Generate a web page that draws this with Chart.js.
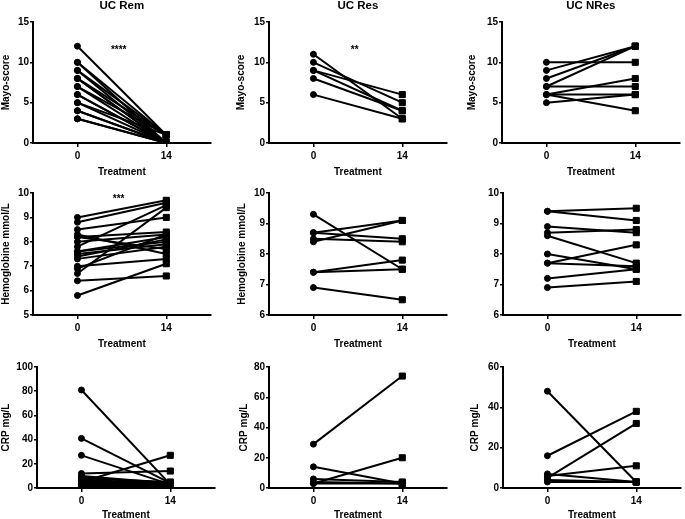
<!DOCTYPE html>
<html>
<head>
<meta charset="utf-8">
<script src="https://cdn.jsdelivr.net/npm/chart.js@4.4.1/dist/chart.umd.min.js"></script>
<style>
  body { margin: 0; background: #fff; overflow: hidden; }
  #wrap { position: relative; width: 685px; height: 519px; overflow: hidden; }
  canvas { position: absolute; }
</style>
</head>
<body>
<div id="wrap"></div>
<script>
// time points (days)
let days = [0, 14];

// Mayo-score
let mayoRem0 = [12, 10, 10, 9, 9, 8, 8, 8, 7, 7, 6, 6, 5, 5, 4, 4, 3, 3];
let mayoRem14 = [1, 1, 0, 0, 1, 0, 0, 1, 0, 1, 0, 0, 0, 1, 0, 0, 0, 0];
let mayoRes0 = [11, 10, 9, 9, 8, 6];
let mayoRes14 = [3, 5, 6, 4, 4, 3];
let mayoNRes0 = [10, 9, 8, 7, 7, 6, 6, 6, 5];
let mayoNRes14 = [10, 12, 12, 12, 7, 8, 6, 4, 6];

// Hemoglobine mmol/L
let hbRem0 = [9.0, 8.8, 8.5, 8.3, 8.2, 8.2, 8.0, 7.8, 7.6, 7.6, 7.5, 7.4, 7.3, 7.0, 6.9, 6.7, 6.4, 5.8];
let hbRem14 = [9.7, 9.6, 9.0, 7.5, 8.4, 7.7, 8.3, 9.5, 8.0, 8.2, 7.9, 8.1, 7.8, 7.3, 8.3, 9.4, 6.6, 7.1];
let hbRes0 = [9.3, 8.7, 8.7, 8.5, 8.4, 7.4, 7.4, 6.9];
let hbRes14 = [7.5, 8.5, 9.1, 8.4, 9.1, 7.8, 7.5, 6.5];
let hbNRes0 = [9.4, 9.4, 8.9, 8.7, 8.6, 8.0, 7.7, 7.7, 7.2, 6.9];
let hbNRes14 = [9.5, 9.1, 8.7, 8.8, 7.7, 7.5, 8.3, 7.6, 7.5, 7.1];

// CRP mg/L
let crpRem0 = [81, 41, 27, 12, 10, 9, 8, 7, 6, 5, 5, 4, 4, 3, 3, 2, 2, 1];
let crpRem14 = [3, 4, 3, 14, 4, 3, 5, 3, 2, 27, 3, 2, 4, 3, 2, 2, 1, 1];
let crpRes0 = [29, 14, 6, 4, 3, 3];
let crpRes14 = [74, 3, 4, 3, 20, 3];
let crpNRes0 = [48, 16, 7, 6, 5, 4, 3];
let crpNRes14 = [3, 38, 3, 11, 32, 3, 3];

let panels = [
  { title: 'UC Rem',  ylabel: 'Mayo-score', d0: mayoRem0,  d14: mayoRem14,  min: 0, max: 15,  step: 5,  sig: '****', sigY: 11.5 },
  { title: 'UC Res',  ylabel: 'Mayo-score', d0: mayoRes0,  d14: mayoRes14,  min: 0, max: 15,  step: 5,  sig: '**',   sigY: 11.5 },
  { title: 'UC NRes', ylabel: 'Mayo-score', d0: mayoNRes0, d14: mayoNRes14, min: 0, max: 15,  step: 5,  sig: '',     sigY: 0 },
  { title: '', ylabel: 'Hemoglobine mmol/L', d0: hbRem0,  d14: hbRem14,  min: 5, max: 10, step: 1, sig: '***', sigY: 9.75 },
  { title: '', ylabel: 'Hemoglobine mmol/L', d0: hbRes0,  d14: hbRes14,  min: 6, max: 10, step: 1, sig: '',    sigY: 0 },
  { title: '', ylabel: '',                   d0: hbNRes0, d14: hbNRes14, min: 6, max: 10, step: 1, sig: '',    sigY: 0 },
  { title: '', ylabel: 'CRP mg/L', d0: crpRem0,  d14: crpRem14,  min: 0, max: 100, step: 20, sig: '', sigY: 0 },
  { title: '', ylabel: 'CRP mg/L', d0: crpRes0,  d14: crpRes14,  min: 0, max: 80,  step: 20, sig: '', sigY: 0 },
  { title: '', ylabel: 'CRP mg/L', d0: crpNRes0, d14: crpNRes14, min: 0, max: 60,  step: 20, sig: '', sigY: 0 }
];

// canvas placement: left, y-scale width, top, space above plot, plot height, x-scale height
let layout = [
  [0, 33, 0, 22, 121, 37], [235, 34, 0, 22, 121, 37], [466, 36, 0, 22, 121, 37],
  [0, 33, 183, 10, 122, 37], [236, 33, 183, 10, 122, 37], [470, 33, 183, 10, 122, 37],
  [0, 37, 357, 10, 121, 35], [238, 31, 357, 10, 121, 35], [469, 34, 357, 10, 121, 35]
];
let plotWidth = 183;
let fam = '"Liberation Sans", Arial, Helvetica, sans-serif';

// draws the significance stars at a data position
let sigPlugin = {
  id: 'sig',
  afterDatasetsDraw(chart, args, opts) {
    if (!opts.text) return;
    let ctx = chart.ctx;
    ctx.save();
    ctx.font = 'bold 10px ' + fam;
    ctx.fillStyle = '#000';
    ctx.textAlign = 'center';
    ctx.textBaseline = 'middle';
    ctx.fillText(opts.text, chart.scales.x.getPixelForValue(opts.x), chart.scales.y.getPixelForValue(opts.y));
    ctx.restore();
  }
};

let wrap = document.getElementById('wrap');

panels.forEach((p, k) => {
  let [left, yW, top, padTop, plotH, xH] = layout[k];
  let canvas = document.createElement('canvas');
  canvas.width = yW + plotWidth;
  canvas.height = padTop + plotH + xH;
  canvas.style.left = left + 'px';
  canvas.style.top = top + 'px';
  wrap.appendChild(canvas);

  let datasets = p.d0.map((v, i) => ({
    data: [{ x: days[0], y: v }, { x: days[1], y: p.d14[i] }],
    showLine: true,
    borderColor: '#000',
    backgroundColor: '#000',
    borderWidth: 2,
    pointStyle: ['circle', 'rect'],
    pointRadius: [3, 4.3],
    pointBorderWidth: 1,
    pointBorderColor: '#000',
    pointBackgroundColor: '#000'
  }));

  let hasTitle = p.title !== '';
  new Chart(canvas.getContext('2d'), {
    type: 'scatter',
    data: { datasets: datasets },
    options: {
      responsive: false,
      animation: false,
      devicePixelRatio: 1,
      events: [],
      layout: { padding: { top: hasTitle ? 0 : padTop, left: 0, right: 0, bottom: 0 } },
      plugins: {
        legend: { display: false },
        tooltip: { enabled: false },
        title: {
          display: hasTitle,
          text: p.title,
          color: '#000',
          fullSize: false,
          font: { family: fam, size: 11.5, weight: 'bold', lineHeight: 1 },
          padding: { top: 0, bottom: padTop - 11.5 }
        },
        sig: { text: p.sig, x: 6.5, y: p.sigY }
      },
      scales: {
        x: {
          type: 'linear',
          min: -7,
          max: 21,
          afterBuildTicks: s => { s.ticks = days.map(v => ({ value: v })); },
          afterFit: s => { s.height = xH; },
          ticks: { color: '#000', padding: 3, maxRotation: 0, autoSkip: false,
                   font: { family: fam, size: 10, weight: 'bold' } },
          grid: { drawOnChartArea: false, drawTicks: true, tickLength: 4, color: '#000', lineWidth: 1.5 },
          border: { display: true, color: '#000', width: 2 },
          title: { display: true, text: 'Treatment', color: '#000',
                   font: { family: fam, size: 10, weight: 'bold' }, padding: { top: 0, bottom: 2 } }
        },
        y: {
          min: p.min,
          max: p.max,
          afterFit: s => { s.width = yW; },
          ticks: { stepSize: p.step, color: '#000', padding: 1,
                   font: { family: fam, size: 10, weight: 'bold' } },
          grid: { drawOnChartArea: false, drawTicks: true, tickLength: 3, color: '#000', lineWidth: 1.5 },
          border: { display: true, color: '#000', width: 2 },
          title: { display: p.ylabel !== '', text: p.ylabel, color: '#000',
                   font: { family: fam, size: 10, weight: 'bold' }, padding: { top: 0, bottom: 0 } }
        }
      }
    },
    plugins: [sigPlugin]
  });
});
</script>
</body>
</html>
